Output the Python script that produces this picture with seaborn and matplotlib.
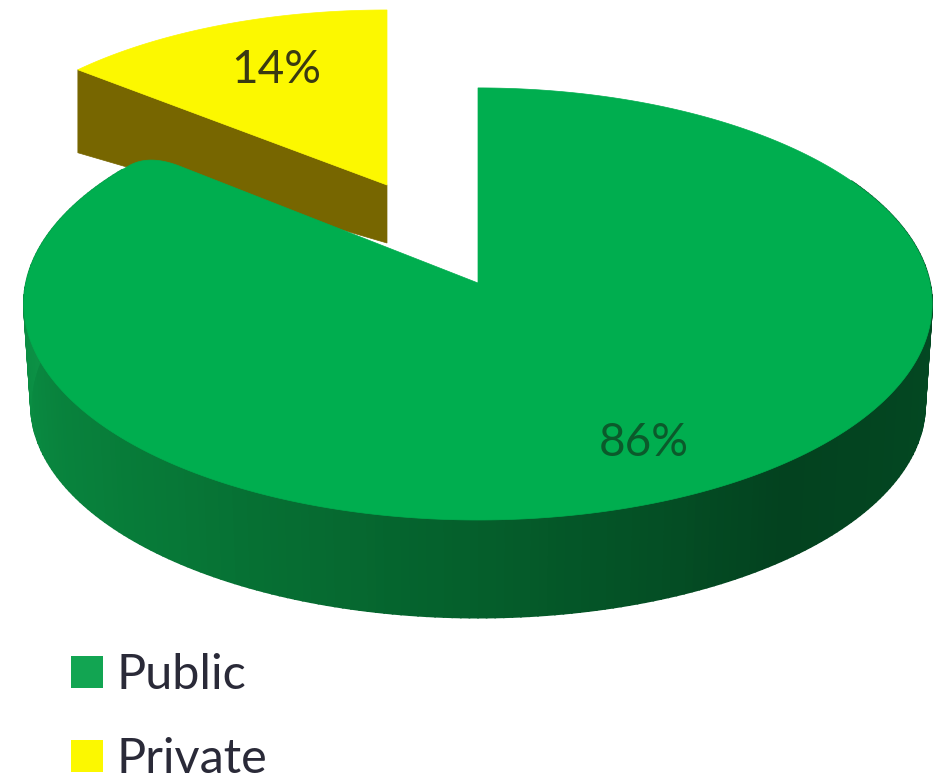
import numpy as np
import matplotlib
matplotlib.use("Agg")
import matplotlib.pyplot as plt
from matplotlib.patches import Patch, Polygon
import seaborn as sns

# Survey shares
categories = ["Public", "Private"]
shares = [86, 14]

sns.set_theme(style="white")
plt.rcParams["font.family"] = ["Lato", "DejaVu Sans"]

GREEN = "#00AE4F"
YELLOW = "#FCF800"
BROWN = "#776600"
TILT = 0.097


def rim(angles, cx, cy, bx, ay):
    """Project clock angles (degrees from 12 o'clock) onto a tilted disc."""
    a = np.radians(angles)
    u, v = np.sin(a), -np.cos(a)
    w = 1 - TILT * v
    return cx + bx * u / w, cy + ay * v / w


fig = plt.figure(figsize=(9.47, 7.82), dpi=100, facecolor="white")
ax = fig.add_axes([0, 0, 1, 1])
ax.set_xlim(0, 947)
ax.set_ylim(782, 0)
ax.axis("off")

private_sweep = 360 * shares[1] / sum(shares)
public_sweep = 360 - private_sweep

# Detached Private slice: cut face first, then its top
px, py = rim(np.linspace(-private_sweep, 0, 60), 387, 185, 426, 192)
ax.add_patch(Polygon([(px[0], py[0]), (387, 185), (387, 243), (px[0], py[0] + 83)],
                     closed=True, fc=BROWN, ec=BROWN, lw=0.5, zorder=1))
ax.add_patch(Polygon(np.r_[[(387, 185)], np.c_[px, py]], closed=True,
                     fc=YELLOW, ec=YELLOW, lw=0.5, zorder=2))

# Outer wall of the Public slice, shaded in narrow strips around the rim
wall_angles = np.linspace(60, 304, 245)
tx, ty = rim(wall_angles, 478, 283, 452, 214)
bx, by = rim(wall_angles, 478, 384, 445, 211)
wall_cmap = sns.blend_palette(
    ["#044E27", "#034822", "#03421F", "#05602C", "#077A38", "#0A8C42", "#109C4C"],
    n_colors=len(wall_angles) - 1,
)
for i, colour in enumerate(wall_cmap):
    ax.add_patch(Polygon([(tx[i], ty[i]), (tx[i + 1], ty[i + 1]),
                          (bx[i + 1], by[i + 1]), (bx[i], by[i])],
                         closed=True, fc=colour, ec=colour, lw=1.2, zorder=3))

# Top face of the Public slice, its outer cut corner softened with a quadratic curve
gx, gy = rim(np.linspace(0, public_sweep - 4, 400), 478, 283, 452, 214)
cx, cy = rim(np.array([public_sweep]), 478, 283, 452, 214)
corner = np.array([cx[0], cy[0]])
apex = np.array([478.0, 283.0])
edge_end = corner + (apex - corner) / np.linalg.norm(apex - corner) * 32
t = np.linspace(0, 1, 30)[:, None]
start = np.array([gx[-1], gy[-1]])
curve = (1 - t) ** 2 * start + 2 * t * (1 - t) * corner + t ** 2 * edge_end
ax.add_patch(Polygon(np.r_[[apex], np.c_[gx, gy], curve], closed=True,
                     fc=GREEN, ec=GREEN, lw=0.5, zorder=4))

ax.text(276, 70, f"{shares[1]}%", ha="center", va="center",
        fontsize=33, color="#3A3A12", zorder=5)
ax.text(644, 443, f"{shares[0]}%", ha="center", va="center",
        fontsize=33, color="#0B5A2B", zorder=5)

handles = [Patch(fc="#12A552", ec="none"), Patch(fc=YELLOW, ec="none")]
leg = ax.legend(handles, categories, loc="lower left",
                bbox_to_anchor=(71, 781), bbox_transform=ax.transData,
                frameon=False, fontsize=35, labelcolor="#2A2A38",
                handlelength=0.66, handleheight=0.66, handletextpad=0.27,
                labelspacing=0.82, borderpad=0, borderaxespad=0)

fig.savefig("out.png", dpi=100)
